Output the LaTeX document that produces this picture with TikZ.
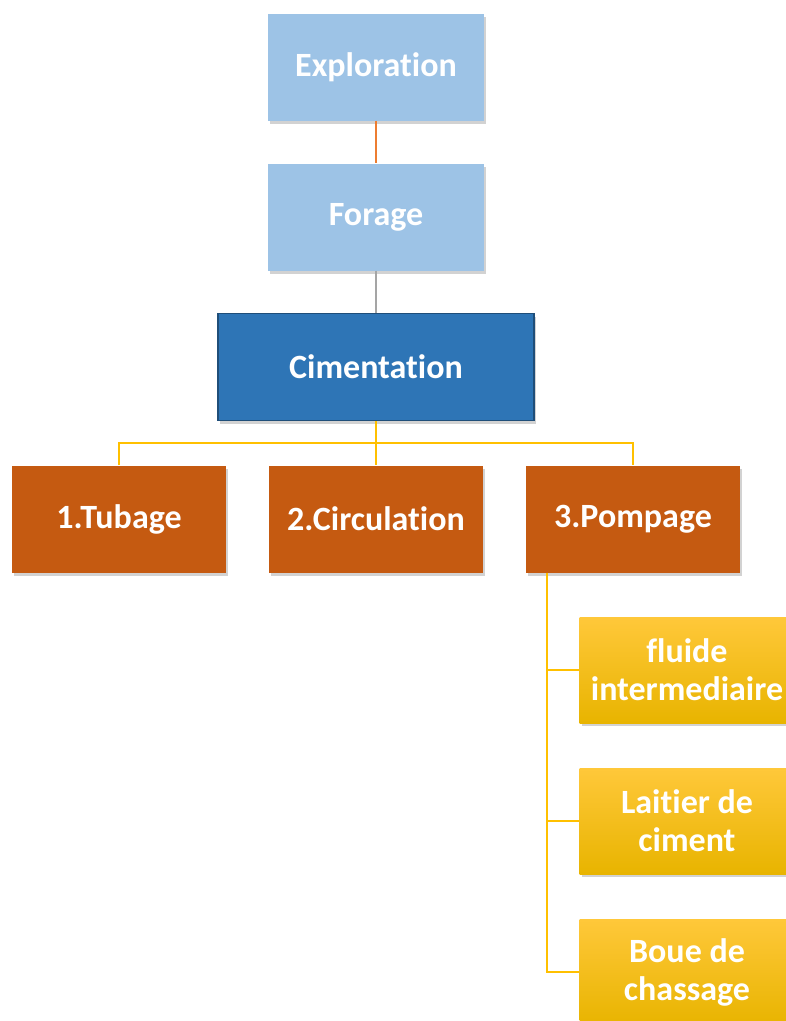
\documentclass[tikz,border=0pt]{standalone}
\usepackage{fontspec}
\setmainfont{Carlito}[Ligatures=NoCommon]
\usetikzlibrary{shadows, positioning}
\definecolor{paleblue}{HTML}{9DC3E6}
\definecolor{deepblue}{HTML}{2E75B6}
\definecolor{deepborder}{HTML}{1F4E79}
\definecolor{rust}{HTML}{C55A11}
\definecolor{goldtop}{HTML}{FFC83A}
\definecolor{goldbot}{HTML}{E8B400}
\definecolor{goldline}{HTML}{FFC000}
\definecolor{linkorange}{HTML}{ED7D31}
\definecolor{linkgray}{HTML}{A5A5A5}

\begin{document}
\begin{tikzpicture}[x=1pt, y=-1pt,
    box/.style={rectangle, minimum width=216pt, minimum height=107pt, inner sep=2pt,
      text=white, align=center, font=\fontsize{34}{38}\selectfont\bfseries,
      drop shadow={shadow xshift=2pt, shadow yshift=-3pt, opacity=0.35}},
    phase/.style={box, fill=paleblue},
    main/.style={box, fill=deepblue, draw=deepborder, line width=1.5pt, minimum width=316pt},
    stepbox/.style={box, fill=rust, minimum width=214pt},
    fluid/.style={box, top color=goldtop, bottom color=goldbot, minimum width=215pt, minimum height=106pt},
    link/.style={line width=2pt, draw=goldline}]
    \fill[white] (0,0) rectangle (786,1021);
    \useasboundingbox (0,0) rectangle (786,1021);
    % upper chain
    \node[phase] (expl) at (376,67) {Exploration};
    \node[phase] (forage) at (376,217) {Forage};
    \node[main] (cim) at (376,367) {Cimentation};
    % the three steps
    \node[stepbox] (tub) at (119,519) {1.Tubage};
    \node[stepbox] (circ) at (376,519) {2.Circulation};
    \node[stepbox] (pomp) at (633,519) {3.Pompage};
    % fluids pumped
    \node[fluid] (fluide) at (687,670) {fluide\\intermediaire};
    \node[fluid] (laitier) at (687,821) {Laitier de\\ciment};
    \node[fluid] (boue) at (687,972) {Boue de\\chassage};
    % connectors
    \draw[line width=2pt, linkorange] (expl.south) -- (forage.north);
    \draw[line width=2pt, linkgray] (forage.south) -- (cim.north);
    \coordinate (bus) at (376,443);
    \draw[link] (cim.south) -- (circ.north);
    \draw[link] (tub.north) -- (tub.north |- bus) -- (pomp.north |- bus) -- (pomp.north);
    \coordinate (trunk) at ([xshift=21pt]pomp.south west);
    \draw[link] (trunk) |- (boue.west);
    \draw[link] (trunk |- fluide.west) -- (fluide.west);
    \draw[link] (trunk |- laitier.west) -- (laitier.west);
\end{tikzpicture}
\end{document}
